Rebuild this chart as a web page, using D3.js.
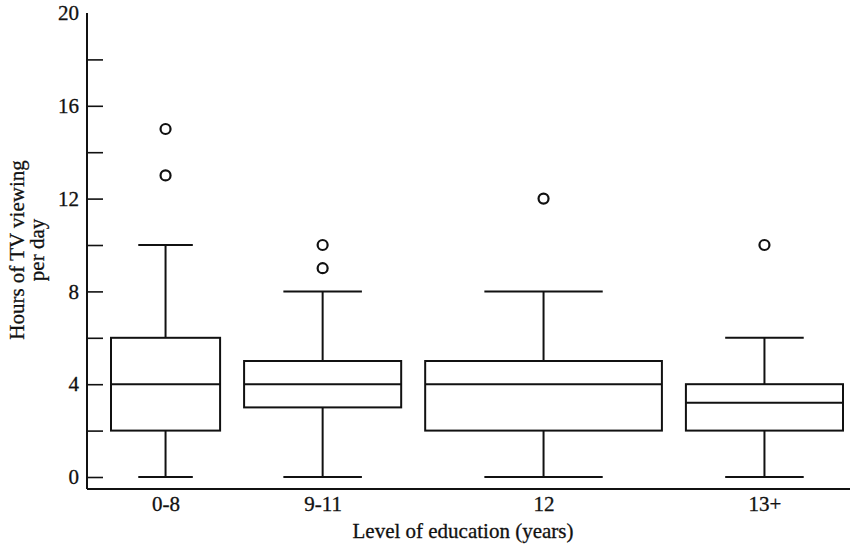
<!DOCTYPE html>
<html>
<head>
<meta charset="utf-8">
<script src="https://cdn.jsdelivr.net/npm/d3@7"></script>
<style>
  body { margin: 0; background: #fff; }
  text { font-family: "Liberation Serif", "DejaVu Serif", serif; fill: #111; }
</style>
</head>
<body>
<div class="chart-container"></div>
<script>
// Level of education groups
const categories = ['0-8', '9-11', '12', '13+'];
// five-number summaries (hours per day)
const whiskerLow = [0, 0, 0, 0];
const q1 = [2, 3, 2, 2];
const median = [4, 4, 4, 3.2];
const q3 = [6, 5, 5, 4];
const whiskerHigh = [10, 8, 8, 6];
const outliers = [[13, 15], [9, 10], [12], [10]];
// relative box widths (group size)
const boxWeight = [1, 1.44, 2.17, 1.44];
const yTicks = [0, 2, 4, 6, 8, 10, 12, 14, 16, 18, 20];

const width = 850, height = 551;
const axisX = 87, axisY = 489;
const gap = 24;

const svg = d3.select('.chart-container')
    .append('svg')
    .attr('width', width)
    .attr('height', height);

// Y scale
const y = d3.scaleLinear()
    .domain([0, 20])
    .range([477, 13]);

// box widths from weights
const totalW = width - 7 - axisX - gap * 4;
const w = d3.scaleLinear()
    .domain([0, d3.sum(boxWeight)])
    .range([0, totalW]);

const boxes = categories.map((c, i) => {
    const before = d3.sum(boxWeight.slice(0, i));
    const left = axisX + gap * (i + 1) + w(before);
    const bw = w(boxWeight[i]);
    return {
        cat: c, left: left, bw: bw, mid: left + bw / 2,
        lo: whiskerLow[i], q1: q1[i], med: median[i], q3: q3[i], hi: whiskerHigh[i],
        out: outliers[i]
    };
});

const x = d3.scaleOrdinal()
    .domain(categories)
    .range(boxes.map(b => b.mid));

// Y axis: ticks pointing inward, labels every 4
const yAxis = svg.append('g')
    .attr('transform', `translate(${axisX},0)`)
    .call(d3.axisLeft(y)
        .tickValues(yTicks)
        .tickSize(-16)
        .tickPadding(8)
        .tickFormat(d => d % 4 === 0 ? d : ''));
yAxis.select('.domain').remove();
yAxis.selectAll('.tick line')
    .attr('stroke', '#111')
    .attr('stroke-width', 1.6)
    .filter(d => d === 20).remove();
yAxis.selectAll('.tick text')
    .attr('font-size', 21)
    .attr('font-family', '"Liberation Serif", serif')
    .attr('fill', '#111')
    .attr('stroke', '#111')
    .attr('stroke-width', 0.3);

svg.append('line')
    .attr('x1', axisX).attr('x2', axisX)
    .attr('y1', y(20)).attr('y2', axisY)
    .attr('stroke', '#111')
    .attr('stroke-width', 2);

// X axis: baseline, category labels only
const xAxis = svg.append('g')
    .attr('transform', `translate(0,${axisY})`)
    .call(d3.axisBottom(x).tickSize(0).tickPadding(7));
xAxis.select('.domain').remove();
xAxis.selectAll('.tick text')
    .attr('font-size', 21)
    .attr('font-family', '"Liberation Serif", serif')
    .attr('fill', '#111')
    .attr('stroke', '#111')
    .attr('stroke-width', 0.3);

svg.append('line')
    .attr('x1', axisX).attr('x2', width)
    .attr('y1', axisY).attr('y2', axisY)
    .attr('stroke', '#111')
    .attr('stroke-width', 2);

// Box plots
const g = svg.append('g')
    .selectAll('g')
    .data(boxes)
    .enter()
    .append('g')
    .attr('stroke', '#111')
    .attr('stroke-width', 2)
    .attr('fill', 'none');

// whiskers
g.append('line')
    .attr('x1', d => d.mid).attr('x2', d => d.mid)
    .attr('y1', d => y(d.q3)).attr('y2', d => y(d.hi));
g.append('line')
    .attr('x1', d => d.mid).attr('x2', d => d.mid)
    .attr('y1', d => y(d.q1)).attr('y2', d => y(d.lo));
// caps, half the box width
g.append('line')
    .attr('x1', d => d.mid - d.bw / 4).attr('x2', d => d.mid + d.bw / 4)
    .attr('y1', d => y(d.hi)).attr('y2', d => y(d.hi));
g.append('line')
    .attr('x1', d => d.mid - d.bw / 4).attr('x2', d => d.mid + d.bw / 4)
    .attr('y1', d => y(d.lo)).attr('y2', d => y(d.lo));
// box
g.append('rect')
    .attr('x', d => d.left)
    .attr('y', d => y(d.q3))
    .attr('width', d => d.bw)
    .attr('height', d => y(d.q1) - y(d.q3));
// median
g.append('line')
    .attr('x1', d => d.left).attr('x2', d => d.left + d.bw)
    .attr('y1', d => y(d.med)).attr('y2', d => y(d.med));
// outliers
g.selectAll('circle')
    .data(d => d.out.map(v => ({ mid: d.mid, v: v })))
    .enter()
    .append('circle')
    .attr('cx', d => d.mid)
    .attr('cy', d => y(d.v))
    .attr('r', 5)
    .attr('stroke-width', 2.2);

// Axis titles
svg.append('text')
    .attr('x', 463)
    .attr('y', 538)
    .attr('text-anchor', 'middle')
    .attr('font-size', 21)
    .attr('stroke', '#111')
    .attr('stroke-width', 0.3)
    .text('Level of education (years)');

const yt = svg.append('text')
    .attr('transform', 'translate(0,250) rotate(-90)')
    .attr('text-anchor', 'middle')
    .attr('font-size', 21)
    .attr('stroke', '#111')
    .attr('stroke-width', 0.3);
yt.append('tspan').attr('x', 0).attr('y', 24).text('Hours of TV viewing');
yt.append('tspan').attr('x', 0).attr('y', 44).text('per day');
</script>
</body>
</html>
